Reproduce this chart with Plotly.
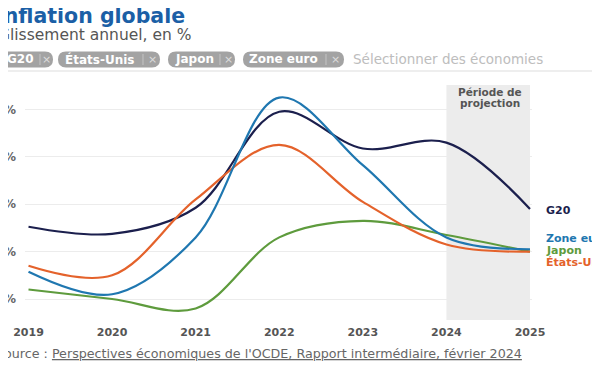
import plotly.graph_objects as go

# ---- data ----
years = [2019, 2020, 2021, 2022, 2023, 2024, 2025]
g20 = [3.05, 2.75, 3.85, 7.9, 6.35, 6.6, 3.8]
zone_euro = [1.15, 0.2, 2.6, 8.5, 5.65, 2.6, 2.1]
japon = [0.4, 0.0, -0.4, 2.6, 3.3, 2.7, 2.0]
etats_unis = [1.4, 1.0, 4.2, 6.5, 4.1, 2.3, 2.0]

year_labels = ["2019", "2020", "2021", "2022", "2023", "2024", "2025"]
y_ticks = [0, 2, 4, 6, 8]
y_tick_labels = ["0 %", "2 %", "4 %", "6 %", "8 %"]
projection_start, projection_end = 2024, 2025

C_G20 = "#1b1f4d"
C_EUR = "#1f77b0"
C_JPN = "#5e9b3d"
C_USA = "#e4622b"

# page has an 8px body margin: figure is 592x364 so it fits the 600x372 window
OFF = 8
W, H = 592, 364
L, T = 17, 77          # plot area starts at screen (25, 85)
PW, PH = 507, 235
R, B = W - L - PW, H - T - PH


def px(x):  # screen x -> paper
    return (x - OFF - L) / PW


def py(y):  # screen y -> paper
    return (H - B - (y - OFF)) / PH


FONT = "DejaVu Sans"

fig = go.Figure()

fig.add_shape(type="rect", xref="x", yref="paper", x0=projection_start, x1=projection_end,
              y0=0, y1=1, fillcolor="#ececec", line_width=0, layer="below")

for name, vals, col in [("G20", g20, C_G20), ("Japon", japon, C_JPN),
                        ("États-Unis", etats_unis, C_USA), ("Zone euro", zone_euro, C_EUR)]:
    fig.add_trace(go.Scatter(x=years, y=vals, name=name, mode="lines",
                             line=dict(color=col, width=2.2, shape="spline", smoothing=1.0),
                             showlegend=False, hoverinfo="skip"))

ann = []
shapes = []


def text(t, x, y, size, color, anchor="left", bold=False):
    ann.append(dict(text=f"<b>{t}</b>" if bold else t, x=px(x), y=py(y), xref="paper", yref="paper",
                    xanchor=anchor, yanchor="middle", showarrow=False,
                    font=dict(family=FONT, size=size, color=color)))


text("Inflation globale", -6, 16.5, 20.5, "#1b5fa6", bold=True)
text("Glissement annuel, en %", -4, 35, 15.5, "#555555")

for yy in (48, 71):
    shapes.append(dict(type="line", xref="paper", yref="paper", x0=px(0), x1=px(600),
                       y0=py(yy), y1=py(yy), line=dict(color="#dddddd", width=1.2)))


def pill_path(x0, x1, y0, y1):
    r = (y1 - y0) / 2
    ym = (y0 + y1) / 2
    pts = [
        ("M", [(x0 + r, y0)]), ("L", [(x1 - r, y0)]),
        ("Q", [(x1, y0), (x1, ym)]), ("Q", [(x1, y1), (x1 - r, y1)]),
        ("L", [(x0 + r, y1)]), ("Q", [(x0, y1), (x0, ym)]),
        ("Q", [(x0, y0), (x0 + r, y0)]),
    ]
    s = ""
    for cmd, ps in pts:
        s += cmd + " " + " ".join(f"{px(a):.5f},{py(b):.5f}" for a, b in ps) + " "
    return s + "Z"


chips = [  # label, pill x0, x1, text start, separator x, close x
    ("G20", -8, 53, 5, 40, 46),
    ("États-Unis", 58, 160, 63, 143, 152),
    ("Japon", 168, 235, 173, 220, 228),
    ("Zone euro", 243, 344, 247, 326, 335),
]
cy0, cy1 = 51.5, 67.5
for lab, x0, x1, tx, sx, cx in chips:
    shapes.append(dict(type="path", path=pill_path(x0, x1, cy0, cy1), xref="paper", yref="paper",
                       fillcolor="#a3a3a3", line=dict(width=0)))
    shapes.append(dict(type="line", xref="paper", yref="paper", x0=px(sx), x1=px(sx),
                       y0=py(54), y1=py(65), line=dict(color="#c4c4c4", width=1)))
    text(lab, tx, 59.5, 12, "#ffffff", bold=True)
    text("×", cx, 59.5, 11, "#dcdcdc", anchor="center")
text("Sélectionner des économies", 351, 59.5, 13.5, "#bdbdbd")

# projection label
text("Période de", 490, 92, 10.5, "#555555", anchor="center", bold=True)
text("projection", 490, 103, 10.5, "#555555", anchor="center", bold=True)

# end labels
for lab, yy, col in [("G20", 210, C_G20), ("Zone euro", 238, C_EUR),
                     ("Japon", 250, C_JPN), ("États-Unis", 262, C_USA)]:
    text(lab, 544, yy, 11, col, bold=True)

# source
text("Source : <u>Perspectives économiques de l'OCDE, Rapport intermédiaire, février 2024</u>",
     -6, 353, 12.7, "#666666")

fig.update_layout(
    width=W, height=H,
    margin=dict(l=L, r=R, t=T, b=B, autoexpand=False),
    paper_bgcolor="white", plot_bgcolor="white",
    annotations=ann, shapes=shapes,
    xaxis=dict(range=[2018.958, 2025.024], tickvals=years, ticktext=year_labels,
               showgrid=False, zeroline=False, showline=False, ticks="",
               ticklabelstandoff=4,
               tickfont=dict(family=FONT, size=11, color="#555555", weight=700),
               automargin=False, fixedrange=True),
    yaxis=dict(range=[(299 - 320) / 23.7, (299 - 85) / 23.7], tickvals=y_ticks, ticktext=y_tick_labels,
               showgrid=True, gridcolor="#ececec", gridwidth=1, zeroline=False,
               showline=False, ticks="", ticklabelstandoff=8,
               tickfont=dict(family=FONT, size=12, color="#666666", weight=700),
               automargin=False, fixedrange=True),
)

fig.write_html("out.html")
